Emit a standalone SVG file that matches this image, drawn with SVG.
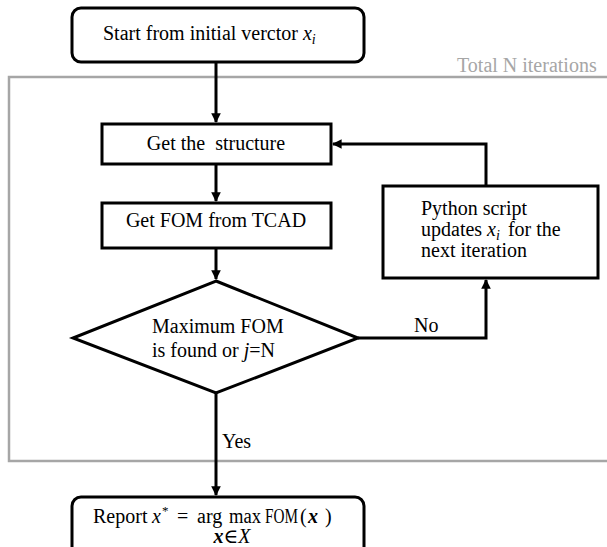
<svg xmlns="http://www.w3.org/2000/svg" width="607" height="547" viewBox="0 0 607 547" font-family="'Liberation Serif', 'Times New Roman', 'DejaVu Serif', serif">
<defs>
<style>
text{font-family:'Liberation Serif','Times New Roman','DejaVu Serif',serif;font-size:20px;fill:#000}
.box{fill:#fff;stroke:#000;stroke-width:3}
.conn{fill:none;stroke:#000;stroke-width:3}
.it{font-style:italic}
.gray{fill:none;stroke:#a6a6a6;stroke-width:2.5}
</style>
<marker id="ah" viewBox="0 0 10 10" refX="9" refY="5" markerWidth="3.2" markerHeight="3.2" orient="auto" markerUnits="strokeWidth">
<path d="M0,0 L10,5 L0,10 z" fill="#000"/>
</marker>
</defs>
<rect width="607" height="547" fill="#fff"/>
<g id="iteration-frame">
<rect class="gray" x="9" y="77" width="610" height="384"/>
<text x="457" y="72" style="fill:#a6a6a6">Total N iterations</text>
</g>
<g id="connectors">
<path class="conn" d="M216,62 V122" marker-end="url(#ah)"/>
<path class="conn" d="M216,164 V201" marker-end="url(#ah)"/>
<path class="conn" d="M216,248 V279" marker-end="url(#ah)"/>
<path class="conn" d="M216,393 V495" marker-end="url(#ah)"/>
<path class="conn" d="M358,338 H486 V280" marker-end="url(#ah)"/>
<path class="conn" d="M486,186 V144 H333" marker-end="url(#ah)"/>
<text x="414" y="332">No</text>
<text x="222" y="448">Yes</text>
</g>
<g id="start">
<rect class="box" x="72" y="8" width="292" height="54" rx="9"/>
<text x="103" y="40">Start from initial verctor <tspan class="it">x</tspan><tspan class="it" font-size="14" dy="4">i</tspan></text>
</g>
<g id="structure">
<rect class="box" x="102" y="124" width="229" height="40"/>
<text x="216" y="150" text-anchor="middle" style="white-space:pre">Get the  structure</text>
</g>
<g id="fom">
<rect class="box" x="102" y="203" width="229" height="45"/>
<text x="216" y="227" text-anchor="middle">Get FOM from TCAD</text>
</g>
<g id="decision">
<polygon class="box" points="216,281 358,338 216,393 73,338"/>
<text x="152" y="333">Maximum FOM</text>
<text x="152" y="357">is found or <tspan class="it">j</tspan>=N</text>
</g>
<g id="python">
<rect class="box" x="383" y="186" width="215" height="92"/>
<text x="421" y="215">Python script</text>
<text x="421" y="236">updates <tspan class="it">x</tspan><tspan class="it" font-size="14" dy="4">i</tspan><tspan dx="3" dy="-4"> for the</tspan></text>
<text x="421" y="257">next iteration</text>
</g>
<g id="report">
<rect class="box" x="72" y="497" width="292" height="60" rx="9"/>
<text y="523"><tspan x="93">Report</tspan><tspan x="152" class="it">x</tspan><tspan x="162" y="515" font-size="13">*</tspan><tspan x="177" y="523">=</tspan><tspan x="197">arg</tspan><tspan x="229" textLength="32" lengthAdjust="spacingAndGlyphs">max</tspan><tspan x="265" textLength="33" lengthAdjust="spacingAndGlyphs">FOM</tspan><tspan x="300">(</tspan><tspan x="308" class="it" font-weight="bold">x</tspan><tspan x="325">)</tspan></text>
<text x="232" y="543" font-size="12" text-anchor="middle"><tspan class="it" font-weight="bold">x</tspan>∈<tspan class="it">X</tspan></text>
</g>
</svg>
